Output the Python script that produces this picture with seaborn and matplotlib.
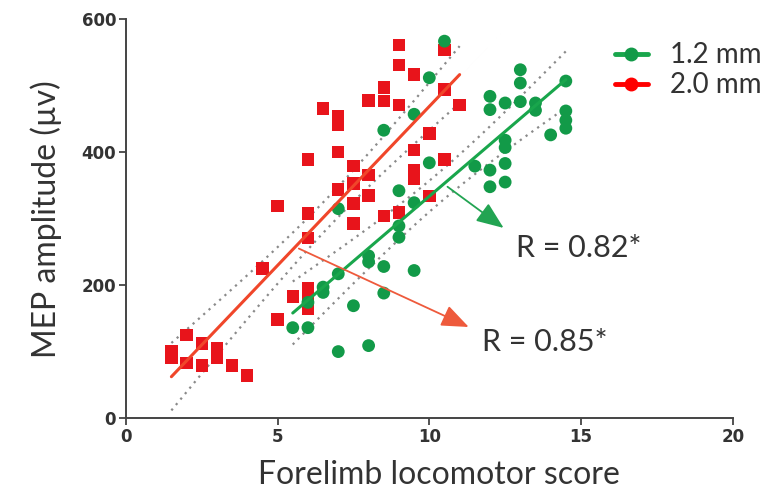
import numpy as np
import pandas as pd
import matplotlib
matplotlib.use("Agg")
import matplotlib.pyplot as plt
from matplotlib.lines import Line2D
import seaborn as sns

# ---------------- data ----------------
red_x = [1.5, 1.5, 2.0, 2.0, 2.5, 2.5, 3.0, 3.0, 3.5, 4.0,
         4.5, 5.0, 5.0, 5.5, 6.0, 6.0, 6.0, 6.0, 6.0, 6.0,
         6.5, 7.0, 7.0, 7.0, 7.0, 7.5, 7.5, 7.5, 7.5, 8.0,
         8.0, 8.0, 8.5, 8.5, 8.5, 9.0, 9.0, 9.0, 9.0, 9.5,
         9.5, 9.5, 9.5, 10.0, 10.0, 10.5, 10.5, 10.5, 11.0]
red_y = [100, 90, 125, 83, 112, 79, 105, 90, 79, 64,
         225, 319, 148, 183, 389, 308, 271, 195, 180, 165,
         466, 454, 441, 400, 344, 379, 353, 323, 293, 478,
         366, 335, 497, 477, 304, 561, 531, 471, 309, 517,
         403, 373, 360, 428, 334, 554, 494, 389, 471]

green_x = [5.5, 6.0, 6.0, 6.5, 6.5, 7.0, 7.0, 7.0, 7.5, 8.0,
           8.0, 8.0, 8.5, 8.5, 8.5, 9.0, 9.0, 9.0, 9.5, 9.5,
           9.5, 10.0, 10.0, 10.5, 11.5, 12.0, 12.0, 12.0, 12.0, 12.5,
           12.5, 12.5, 12.5, 12.5, 13.0, 13.0, 13.0, 13.5, 13.5, 14.0,
           14.5, 14.5, 14.5, 14.5]
green_y = [136, 136, 174, 197, 189, 100, 217, 315, 169, 109,
           235, 244, 188, 228, 433, 272, 289, 342, 222, 324,
           457, 384, 512, 567, 379, 484, 464, 373, 348, 474,
           418, 407, 383, 355, 524, 504, 476, 474, 463, 426,
           507, 462, 448, 436]

series_labels = ["1.2 mm", "2.0 mm"]
r_labels = ["R = 0.82*", "R = 0.85*"]
x_ticks = [0, 5, 10, 15, 20]
y_ticks = [0, 200, 400, 600]

# ---------------- style ----------------
sns.set_theme(style="ticks")
plt.rcParams["font.family"] = ["Lato", "DejaVu Sans"]

C_RED = "#E8141B"
C_RED_LINE = "#F0462A"
C_RED_ARROW = "#EE5A3C"
C_GREEN = "#129A48"
C_GREEN_LINE = "#19A64C"
C_GREEN_ARROW = "#22A452"
C_TEXT = "#333333"

df_red = pd.DataFrame({"x": red_x, "y": red_y})
df_green = pd.DataFrame({"x": green_x, "y": green_y})

fig = plt.figure(figsize=(7.77, 4.93), dpi=100)
ax = fig.add_axes([0.162, 0.152, 0.781, 0.809])


def ci_band(df):
    x = np.asarray(df["x"], float)
    y = np.asarray(df["y"], float)
    n = len(x)
    b, a = np.polyfit(x, y, 1)
    res = y - (a + b * x)
    s = np.sqrt(np.sum(res ** 2) / (n - 2))
    xs = np.linspace(x.min(), x.max(), 100)
    sxx = np.sum((x - x.mean()) ** 2)
    se = s * np.sqrt(1.0 / n + (xs - x.mean()) ** 2 / sxx)
    yh = a + b * xs
    return xs, yh - 2.01 * se, yh + 2.01 * se


for df in (df_green, df_red):
    xs, lo, hi = ci_band(df)
    ax.plot(xs, lo, color="#8a8a8a", lw=1.6, ls=(0, (1, 2.2)), zorder=1)
    ax.plot(xs, hi, color="#8a8a8a", lw=1.6, ls=(0, (1, 2.2)), zorder=1)

sns.scatterplot(data=df_red, x="x", y="y", ax=ax, marker="s", s=80,
                color=C_RED, edgecolor="none", zorder=2)
sns.scatterplot(data=df_green, x="x", y="y", ax=ax, marker="o", s=85,
                color=C_GREEN, edgecolor="none", zorder=3)

sns.regplot(data=df_red, x="x", y="y", ax=ax, scatter=False, ci=None,
            line_kws=dict(color=C_RED_LINE, lw=2.2, zorder=4))
sns.regplot(data=df_green, x="x", y="y", ax=ax, scatter=False, ci=None,
            line_kws=dict(color=C_GREEN_LINE, lw=2.2, zorder=4))

# annotation arrows and R values
arrow_style = "-|>,head_length=0.8,head_width=0.32"
ax.annotate("", xy=(12.45, 286), xytext=(10.6, 348),
            arrowprops=dict(arrowstyle=arrow_style, color=C_GREEN_ARROW, lw=1.3,
                            mutation_scale=21, shrinkA=0, shrinkB=0), zorder=5)
ax.annotate("", xy=(11.3, 137), xytext=(5.7, 255),
            arrowprops=dict(arrowstyle=arrow_style, color=C_RED_ARROW, lw=1.3,
                            mutation_scale=21, shrinkA=0, shrinkB=0), zorder=5)
ax.text(12.85, 256, r_labels[0], fontsize=22, color=C_TEXT, va="center", ha="left")
ax.text(11.75, 115, r_labels[1], fontsize=22, color=C_TEXT, va="center", ha="left")

# axes
ax.set_xlim(0, 20)
ax.set_ylim(0, 600)
ax.set_xticks(x_ticks)
ax.set_yticks(y_ticks)
ax.set_xticklabels([str(t) for t in x_ticks], fontsize=12, fontweight="bold",
                   color=C_TEXT, family="DejaVu Sans")
ax.set_yticklabels([str(t) for t in y_ticks], fontsize=12, fontweight="bold",
                   color=C_TEXT, family="DejaVu Sans")
ax.tick_params(axis="both", direction="out", length=5, width=1.3,
               color="#444444", pad=2)
for sp in ("left", "bottom"):
    ax.spines[sp].set_color("#444444")
    ax.spines[sp].set_linewidth(1.4)
sns.despine(ax=ax)
ax.set_xlabel("Forelimb locomotor score", fontsize=23, color=C_TEXT, labelpad=8)
ax.xaxis.set_label_coords(0.516, -0.105)
ax.set_ylabel("MEP amplitude (\u00b5v)", fontsize=23, color=C_TEXT, labelpad=14)

handles = [
    Line2D([0], [0], color=C_GREEN_LINE, lw=3.5, marker="o", markersize=9,
           markerfacecolor=C_GREEN, markeredgecolor=C_GREEN),
    Line2D([0], [0], color="#FF0000", lw=3.5, marker="o", markersize=9,
           markerfacecolor="#FF0000", markeredgecolor="#FF0000"),
]
leg = ax.legend(handles, series_labels, loc="upper left",
                bbox_to_anchor=(0.787, 0.97), frameon=False, fontsize=20,
                handlelength=1.2, handletextpad=0.8, labelspacing=0.15,
                borderaxespad=0)
for t in leg.get_texts():
    t.set_color(C_TEXT)

fig.savefig("out.png", dpi=100)
